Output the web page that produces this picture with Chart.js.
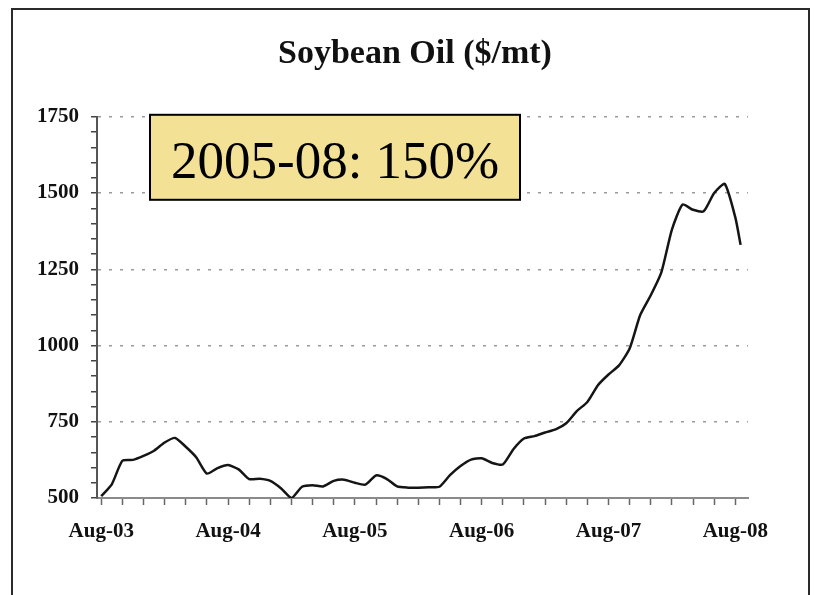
<html>
  <head>
    <script src="https://cdn.jsdelivr.net/npm/chart.js@4.4.1/dist/chart.umd.min.js"></script>
  </head>
  <body>
    <div id="frame"></div>
    <div id="wrapper">
      <canvas id="chart" width="816" height="595"></canvas>
    </div>
    <script>
      // months counted from Aug-03 (0) to Aug-08 (60)
      const monthIndex = [0, 1, 2, 3, 4, 5, 6, 7, 8, 9, 10, 11, 12, 13, 14, 15, 16, 17, 18, 19,
        20, 21, 22, 23, 24, 25, 26, 27, 28, 29, 30, 31, 32, 33, 34, 35, 36, 37, 38, 39,
        40, 41, 42, 43, 44, 45, 46, 47, 48, 49, 50, 51, 52, 53, 54, 55, 56, 57, 58, 59, 60, 60.5];
      const pricePerMt = [506, 545, 622, 625, 638, 655, 682, 697, 668, 633, 580, 598, 608, 594, 562, 563, 556, 532, 500, 537,
        542, 538, 556, 560, 550, 544, 574, 563, 538, 534, 534, 535, 537, 575, 605, 626, 630, 615, 610, 660,
        695, 703, 715, 725, 745, 785, 815, 870, 905, 935, 990, 1100, 1165, 1240, 1380, 1462, 1445, 1440, 1500, 1530, 1420, 1330];
      const xTickLabels = ['Aug-03', 'Aug-04', 'Aug-05', 'Aug-06', 'Aug-07', 'Aug-08'];
      const yTickLabels = [500, 750, 1000, 1250, 1500, 1750];
      const noteText = '2005-08: 150%';

      const serif = "'Liberation Serif', 'Times New Roman', serif";

      const notePlugin = {
        id: 'note',
        afterDraw(chart) {
          const ctx = chart.ctx;
          const a = chart.chartArea;
          const x = a.left + 53, y = a.top - 2, w = 370, h = 85;
          ctx.save();
          ctx.fillStyle = '#f3e196';
          ctx.fillRect(x, y, w, h);
          ctx.lineWidth = 2;
          ctx.strokeStyle = '#000';
          ctx.strokeRect(x, y, w, h);
          ctx.fillStyle = '#000';
          ctx.font = '53px ' + serif;
          ctx.textBaseline = 'alphabetic';
          ctx.fillText(noteText, x + 21, y + 63);
          ctx.restore();
        }
      };

      new Chart('chart', {
        type: 'line',
        data: {
          datasets: [{
            data: monthIndex.map((m, i) => ({x: m, y: pricePerMt[i]})),
            borderColor: '#151515',
            borderWidth: 2.5,
            pointRadius: 0,
            tension: 0.2,
            fill: false
          }]
        },
        options: {
          responsive: false,
          animation: false,
          layout: {padding: {left: 14, right: 0, top: 34, bottom: 37}},
          plugins: {
            legend: {display: false},
            tooltip: {enabled: false},
            title: {
              display: true,
              text: 'Soybean Oil ($/mt)',
              color: '#111',
              font: {family: serif, size: 34, weight: 'bold'},
              padding: {top: 0, bottom: 42}
            }
          },
          scales: {
            x: {
              type: 'linear',
              min: -0.4,
              max: 61.2,
              afterBuildTicks(scale) {
                const t = [];
                for (let m = 0; m <= 60; m += 2) t.push({value: m});
                scale.ticks = t;
              },
              afterFit(scale) { scale.height = 60; },
              grid: {drawOnChartArea: false, drawTicks: true, tickLength: 7, tickColor: '#666', tickWidth: 1.5},
              border: {color: '#8a8a8a', width: 2},
              ticks: {
                autoSkip: false,
                maxRotation: 0,
                padding: 14,
                color: '#111',
                font: {family: serif, size: 21, weight: 'bold'},
                callback: v => (v % 12 === 0 ? xTickLabels[v / 12] : '')
              }
            },
            y: {
              min: 500,
              max: 1750,
              afterBuildTicks(scale) {
                const t = [];
                for (let v = 500; v <= 1750; v += 50) t.push({value: v});
                scale.ticks = t;
              },
              afterFit(scale) { scale.width = 83; },
              grid: {
                color: c => (c.tick && c.tick.value % 250 === 0 && c.tick.value > 500 ? '#9a9a9a' : 'rgba(0,0,0,0)'),
                lineWidth: 1.5,
                tickLength: 6,
                tickColor: '#444',
                tickWidth: 1.5
              },
              border: {color: '#555', width: 2, dash: [3, 8]},
              ticks: {
                autoSkip: false,
                padding: 12,
                color: '#111',
                font: {family: serif, size: 21, weight: 'bold'},
                callback: v => (yTickLabels.includes(v) ? String(v) : '')
              }
            },
            // empty right-hand strip so the plot stops short of the frame
            spacer: {
              type: 'linear',
              position: 'right',
              min: 0,
              max: 1,
              afterFit(scale) { scale.width = 68; },
              grid: {display: false},
              border: {display: false},
              ticks: {display: false}
            }
          }
        },
        plugins: [notePlugin]
      });
    </script>
  </body>
  <style>
    body { margin: 0; background: #fff; }
    #frame {
      position: absolute; left: 11px; top: 8px; width: 795px; height: 640px;
      border: 2px solid #2a2a2a;
    }
    #wrapper { position: absolute; left: 0; top: 0; width: 816px; height: 595px; }
  </style>
